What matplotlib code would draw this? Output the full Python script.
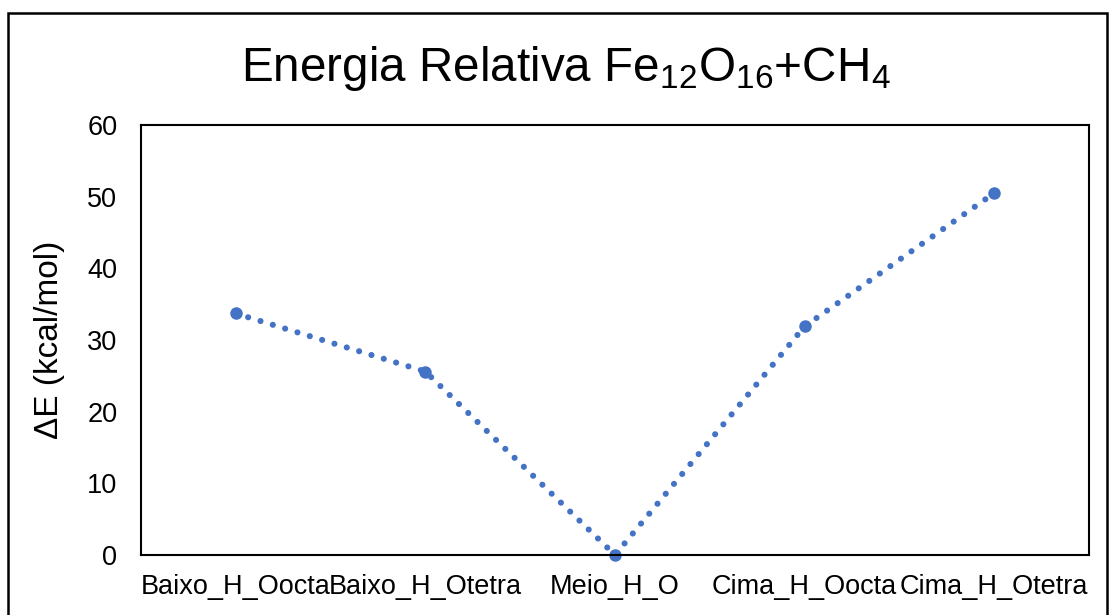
import matplotlib
matplotlib.use('Agg')
import matplotlib.pyplot as plt
from matplotlib.patches import Rectangle

plt.rcParams['font.family'] = ['Liberation Sans', 'DejaVu Sans']
plt.rcParams['mathtext.fontset'] = 'custom'
plt.rcParams['mathtext.rm'] = 'Liberation Sans'
plt.rcParams['mathtext.it'] = 'Liberation Sans'
plt.rcParams['mathtext.bf'] = 'Liberation Sans:bold'

# data
categories = ['Baixo_H_Oocta', 'Baixo_H_Otetra', 'Meio_H_O',
              'Cima_H_Oocta', 'Cima_H_Otetra']
delta_e = [33.7, 25.6, 0.0, 31.9, 50.5]
yticks = [0, 10, 20, 30, 40, 50, 60]

blue = '#4472C4'

fig = plt.figure(figsize=(11.11, 6.15), dpi=100)
ax = fig.add_axes([0.1269, 0.0976, 0.8533, 0.6991])

x = list(range(len(categories)))
ax.plot(x, delta_e, color=blue, lw=4.4, linestyle=(0, (0.01, 2.1)),
        dash_capstyle='round', marker='o', markersize=9,
        markeredgewidth=0, clip_on=False)

ax.set_xlim(-0.5, len(categories) - 0.5)
ax.set_ylim(0, 60)
ax.set_yticks(yticks)
ax.set_xticks(x)
ax.set_xticklabels(categories)
ax.tick_params(axis='both', length=0, labelsize=19.5)
ax.tick_params(axis='y', pad=17)
ax.tick_params(axis='x', pad=14)
for s in ax.spines.values():
    s.set_linewidth(1.5)
    s.set_color('black')

ax.set_ylabel('ΔE (kcal/mol)', fontsize=24, labelpad=16)

fig.text(0.5095, 0.889, 'Energia Relativa Fe$_{12}$O$_{16}$+CH$_4$',
         fontsize=34.3, ha='center', va='center')

# outer chart border
fig.patches.append(Rectangle((0.0072, -0.05), 0.9892, 1.029,
                             transform=fig.transFigure, fill=False,
                             edgecolor='black', linewidth=1.8))

fig.savefig('out.png', dpi=100, facecolor='white')
